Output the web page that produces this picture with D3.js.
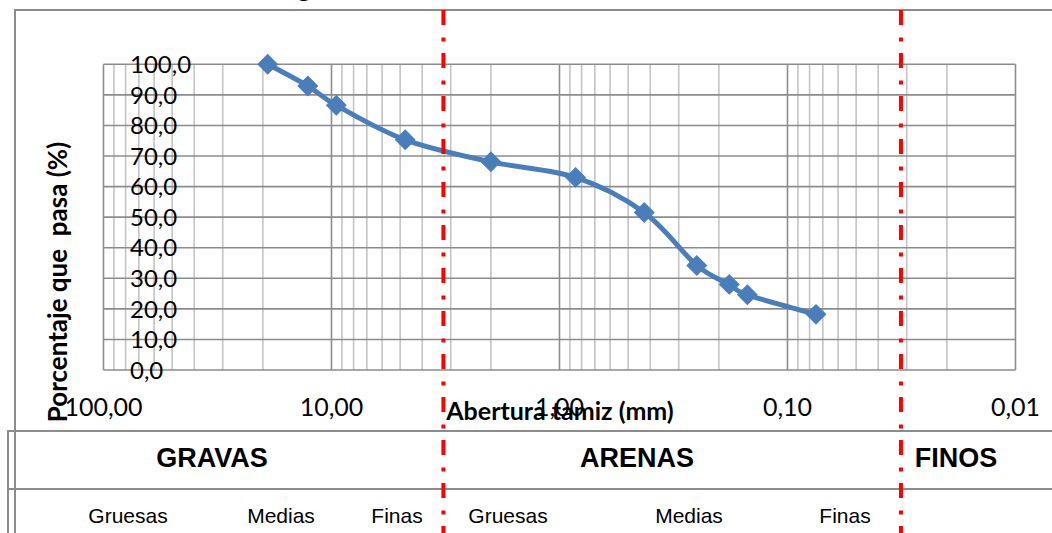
<!DOCTYPE html>
<html>
<head>
<meta charset="utf-8">
<script src="https://cdn.jsdelivr.net/npm/d3@7"></script>
<style>
  html, body { margin: 0; padding: 0; background: #fff; }
  svg { display: block; }
</style>
</head>
<body>
<div id="chart"></div>
<script>
/* Curva granulométrica — D3 v7 */

// ── Data ────────────────────────────────────────────────────────────────────
var tamices = [19.05, 12.7, 9.525, 4.75, 2.0, 0.85, 0.425, 0.25, 0.18, 0.15, 0.075];
var pasa    = [100.0, 92.9, 86.6, 75.3, 68.1, 63.0, 51.5, 34.2, 28.0, 24.6, 18.2];
var xTicks  = [100, 10, 1, 0.1, 0.01];
var yTicks  = [0, 10, 20, 30, 40, 50, 60, 70, 80, 90, 100];
var limites = [3.23, 0.0318];            // red separators (mm)
var grupos  = ["GRAVAS", "ARENAS", "FINOS"];
var subgrupos = ["Gruesas", "Medias", "Finas", "Gruesas", "Medias", "Finas"];

(function () {
  "use strict";

  var W = 1052, H = 533;
  var plot = { left: 103.5, right: 1015.5, top: 64.3, bottom: 370 };

  var svg = d3.select("#chart").append("svg").attr("width", W).attr("height", H);

  var x = d3.scaleLog().domain([100, 0.01]).range([plot.left, plot.right]);
  var y = d3.scaleLinear().domain([0, 100]).range([plot.bottom, plot.top]);

  // ── Title (cut off at top) ────────────────────────────────────────────────
  svg.append("text").attr("x", 220).attr("y", -3)
    .attr("font-family", "Lato, sans-serif").attr("font-weight", "bold")
    .attr("font-size", 27).attr("fill", "#000")
    .text("Curva granulométrica");

  // ── Chart frame ───────────────────────────────────────────────────────────
  svg.append("path")
    .attr("d", "M15," + (H + 5) + "V10H" + (W + 5))
    .attr("fill", "none").attr("stroke", "#8c8c8c").attr("stroke-width", 2);

  // ── Grid ──────────────────────────────────────────────────────────────────
  var minor = [];
  [10, 1, 0.1, 0.01].forEach(function (dec) {
    for (var k = 2; k <= 9; k++) minor.push(dec * k);
  });
  var gGrid = svg.append("g");
  gGrid.selectAll(".vmin").data(minor).enter().append("line")
    .attr("x1", function (d) { return x(d); }).attr("x2", function (d) { return x(d); })
    .attr("y1", plot.top).attr("y2", plot.bottom)
    .attr("stroke", "#c4c4c4").attr("stroke-width", 1.6);
  gGrid.selectAll(".vmaj").data(xTicks).enter().append("line")
    .attr("x1", function (d) { return x(d); }).attr("x2", function (d) { return x(d); })
    .attr("y1", plot.top).attr("y2", plot.bottom)
    .attr("stroke", "#8c8c8c").attr("stroke-width", 1.6);
  gGrid.selectAll(".h").data(yTicks).enter().append("line")
    .attr("x1", plot.left).attr("x2", plot.right)
    .attr("y1", function (d) { return y(d); }).attr("y2", function (d) { return y(d); })
    .attr("stroke", "#8c8c8c").attr("stroke-width", 1.6);

  // ── Axis labels ───────────────────────────────────────────────────────────
  var fmtY = function (d) { return d.toFixed(1).replace(".", ","); };
  var fmtX = function (d) { return d.toFixed(2).replace(".", ","); };

  svg.append("g").selectAll("text").data(yTicks).enter().append("text")
    .attr("x", 130).attr("y", function (d) { return y(d); }).attr("dy", "0.36em")
    .attr("font-family", "Lato, sans-serif").attr("font-size", 24).attr("fill", "#000")
    .text(fmtY);

  svg.append("g").selectAll("text").data(xTicks).enter().append("text")
    .attr("x", function (d) { return x(d); }).attr("y", 416)
    .attr("text-anchor", "middle")
    .attr("font-family", "Lato, sans-serif").attr("font-size", 25).attr("fill", "#000")
    .text(fmtX);

  svg.append("text").attr("x", 560).attr("y", 420).attr("text-anchor", "middle")
    .attr("font-family", "Lato, sans-serif").attr("font-weight", "bold")
    .attr("font-size", 25).attr("fill", "#000")
    .text("Abertura tamiz (mm)");

  svg.append("text").attr("transform", "translate(67,282) rotate(-90)")
    .attr("text-anchor", "middle")
    .attr("font-family", "Lato, sans-serif").attr("font-weight", "bold")
    .attr("font-size", 26).attr("fill", "#000")
    .attr("xml:space", "preserve").style("white-space", "pre")
    .text("Porcentaje que  pasa (%)");

  // ── Curve ─────────────────────────────────────────────────────────────────
  var pts = tamices.map(function (t, i) { return { t: t, p: pasa[i] }; });
  var line = d3.line()
    .x(function (d) { return x(d.t); })
    .y(function (d) { return y(d.p); })
    .curve(d3.curveCatmullRom.alpha(0));
  svg.append("path").datum(pts)
    .attr("fill", "none").attr("stroke", "#4a7ebb").attr("stroke-width", 5)
    .attr("stroke-linejoin", "round")
    .attr("d", line);

  var diamond = d3.symbol().type(d3.symbolSquare).size(190);
  svg.append("g").selectAll("path").data(pts).enter().append("path")
    .attr("transform", function (d) { return "translate(" + x(d.t) + "," + y(d.p) + ") rotate(45)"; })
    .attr("d", diamond)
    .attr("fill", "#4a7ebb").attr("stroke", "#4a7ebb").attr("stroke-width", 1);

  // ── Classification table ──────────────────────────────────────────────────
  var tbl = { top: 431, mid: 489, left: 8 };
  svg.append("path")
    .attr("d", "M" + tbl.left + "," + (H + 5) + "V" + tbl.top + "H" + (W + 5) +
               "M" + tbl.left + "," + tbl.mid + "H" + (W + 5))
    .attr("fill", "none").attr("stroke", "#8c8c8c").attr("stroke-width", 2);

  var grupoX = [212, 637, 956];
  svg.append("g").selectAll("text").data(grupos).enter().append("text")
    .attr("x", function (d, i) { return grupoX[i]; }).attr("y", 467)
    .attr("text-anchor", "middle")
    .attr("font-family", "Liberation Sans, Arial, sans-serif").attr("font-weight", "bold")
    .attr("font-size", 27).attr("fill", "#000")
    .text(function (d) { return d; });

  var subX = [128, 281, 397, 508, 689, 845];
  svg.append("g").selectAll("text").data(subgrupos).enter().append("text")
    .attr("x", function (d, i) { return subX[i]; }).attr("y", 523)
    .attr("text-anchor", "middle")
    .attr("font-family", "Liberation Sans, Arial, sans-serif")
    .attr("font-size", 21).attr("fill", "#000")
    .text(function (d) { return d; });

  // ── Red separators ────────────────────────────────────────────────────────
  svg.append("g").selectAll("line").data(limites).enter().append("line")
    .attr("x1", function (d) { return x(d); }).attr("x2", function (d) { return x(d); })
    .attr("y1", 10).attr("y2", H)
    .attr("stroke", "#ff0000").attr("stroke-width", 4)
    .attr("stroke-dasharray", "15,12.5,4,11.5");
})();
</script>
</body>
</html>
